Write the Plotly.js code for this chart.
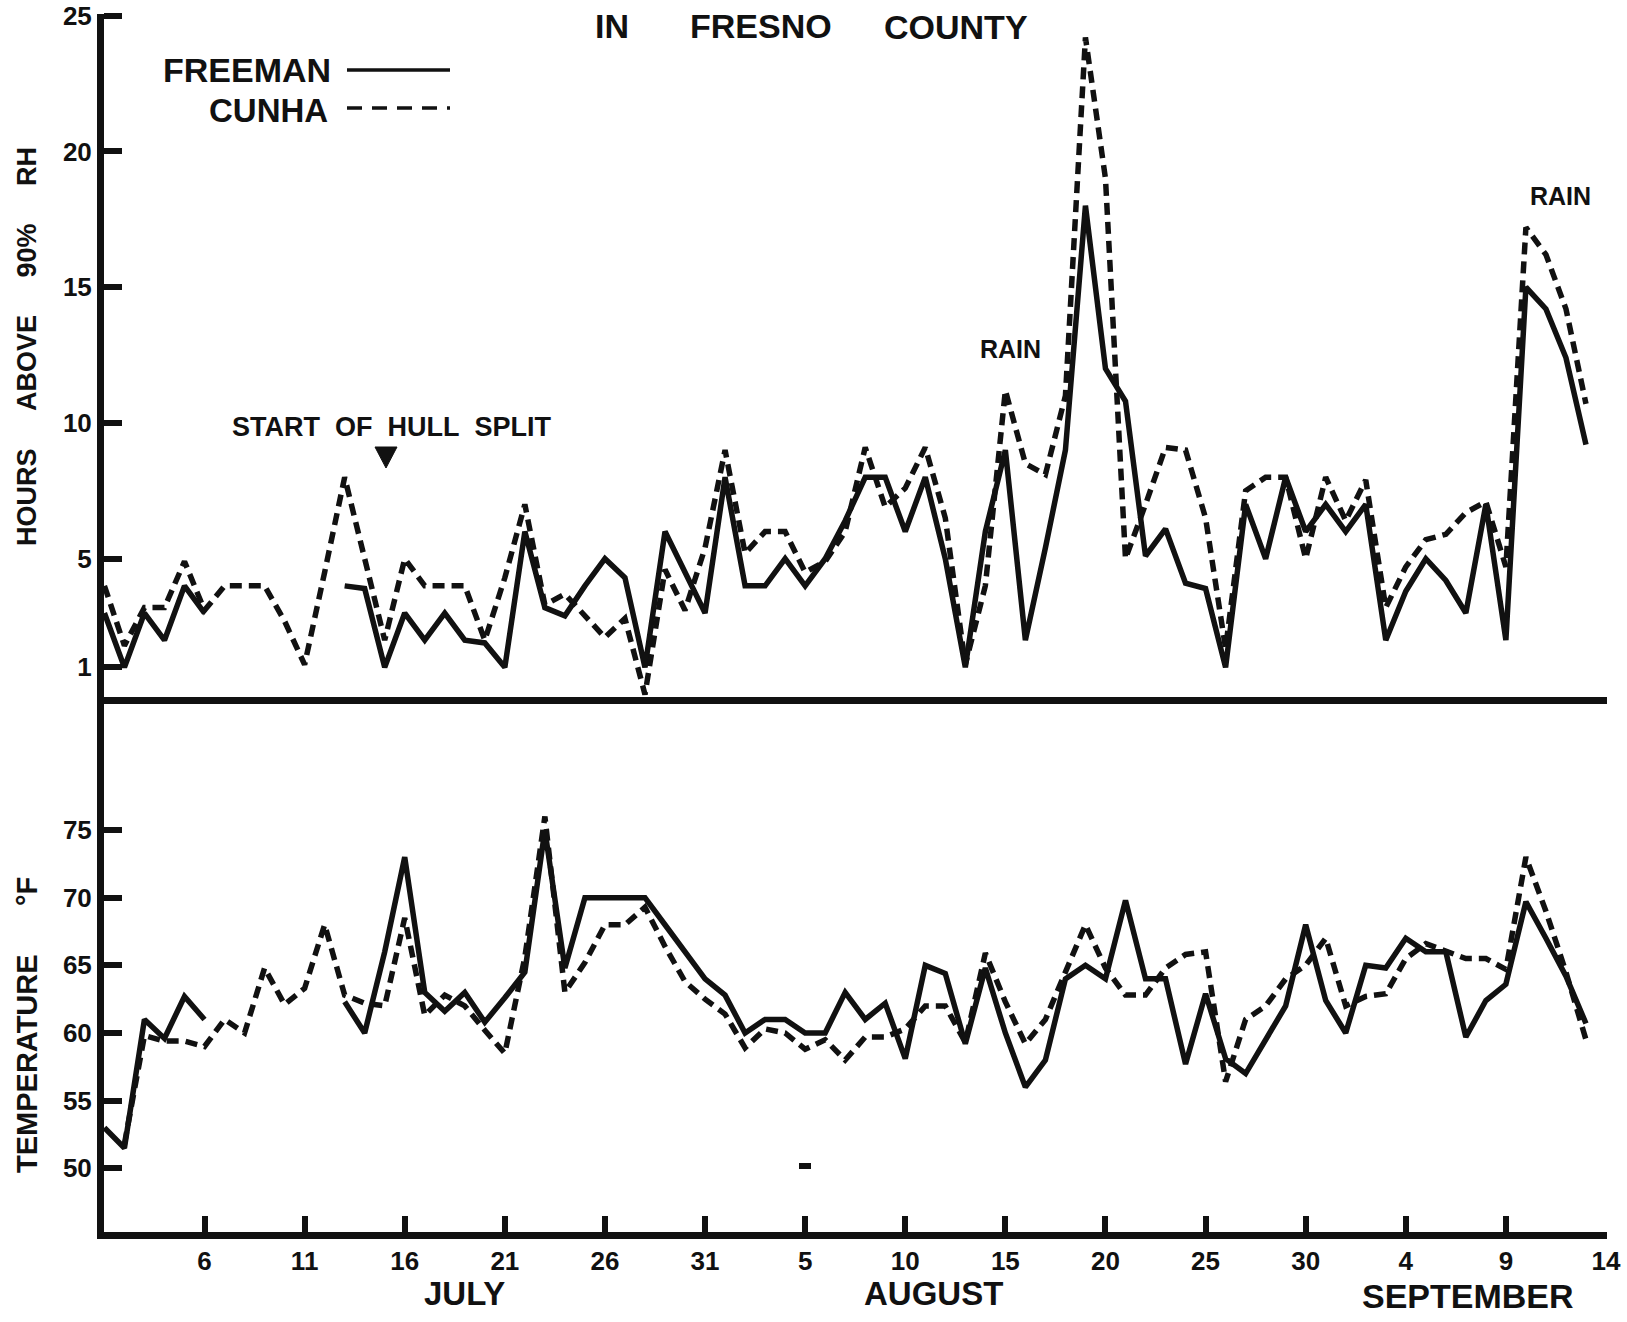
<!DOCTYPE html>
<html><head><meta charset="utf-8">
<script src="https://cdn.plot.ly/plotly-3.0.1.min.js"></script>
<style>html,body{margin:0;padding:0;background:#fff}</style>
</head><body>
<div id="chart" style="width:1627px;height:1322px"></div>
<script>
// Day index: 1 = July 1 ... 75 = September 13
const days = [1,2,3,4,5,6,7,8,9,10,11,12,13,14,15,16,17,18,19,20,21,22,23,24,25,26,27,28,29,30,31,32,33,34,35,36,37,38,39,40,41,42,43,44,45,46,47,48,49,50,51,52,53,54,55,56,57,58,59,60,61,62,63,64,65,66,67,68,69,70,71,72,73,74,75];

// Hours above 90% RH
const freemanRH = [3,1,3,2,4,3,null,null,null,null,
  null,null,4,3.9,1,3,2,3,2,1.9,
  1,6,3.2,2.9,4,5,4.3,1,6,4.5,
  3,8,4,4,5,4,5,6.4,8,8,
  6,8,5,1,6,9,2,5.4,9,18,
  12,10.8,5.1,6.1,4.1,3.9,1,7,5,8,
  6,7,6,7,2,3.8,5,4.2,3,7,
  2,15,14.2,12.4,9.2];
const cunhaRH = [4,1.8,3.2,3.2,4.9,3.1,4,4,4,2.7,
  1.1,4.5,8,5,2,5,4,4,4,2,
  4.3,7,3.3,3.7,2.9,2.1,2.8,0,4.6,3.1,
  5.4,9,5.2,6,6,4.5,4.9,6,9.1,6.9,
  7.6,9.1,6.5,1.1,4,11.2,8.5,8.1,11,24.2,
  19,5,7,9.1,9,6.5,1.7,7.5,8,8,
  5,8,6.4,7.9,3.2,4.7,5.7,5.9,6.7,7.1,
  4.7,17.2,16.2,14.2,10.7];

// Temperature (°F)
const freemanTemp = [53,51.5,61,59.6,62.7,61,null,null,null,null,
  null,null,62.3,60,66,73,63,61.6,63,60.8,
  62.6,64.5,75,64.8,70,70,70,70,68,66,
  64,62.8,60,61,61,60,60,63,61,62.2,
  58.1,65,64.4,59.2,64.8,60,56,58,64,65,
  64,69.8,64,64,57.7,62.9,58.1,57,59.5,62,
  68,62.4,60,65,64.8,67,66,66,59.7,62.4,
  63.6,69.7,67,64.2,60.7];
const cunhaTemp = [null,51.8,59.8,59.4,59.4,59,61,60,64.8,62.1,
  63.3,68,62.8,62.2,62,68.5,61.3,62.8,62,60.2,
  58.5,65.6,76,63,65.2,68,68,69.3,66.4,63.8,
  62.5,61.4,58.9,60.3,60,58.8,59.5,58,59.7,59.7,
  60.3,62,62,59.3,65.9,62.3,59.2,61,64.5,68,
  64.8,62.8,62.8,64.8,65.8,66,56.4,61,62,64,
  65,67,62,62.7,62.9,65.5,66.6,66.1,65.5,65.5,
  64.7,73,69,64.5,59.5];

const tickDays = [6,11,16,21,26,31,36,41,46,51,56,61,66,71,76];
const tickLabels = ['6','11','16','21','26','31','5','10','15','20','25','30','4','9','14'];
const rhTicks = [1,5,10,15,20,25];
const tempTicks = [50,55,60,65,70,75];
const monthNames = ['JULY','AUGUST','SEPTEMBER'];
const seriesNames = ['FREEMAN','CUNHA'];

// ---- layout geometry (pixels) ----
const W = 1627, H = 1322, L = 104, R = 20, T = 14, B = 90;
const PW = W - L - R, PH = H - T - B;
const px = x => (x - L) / PW;
const py = y => (H - B - y) / PH;
const split = py(696.5);

const INK = '#111';
const FONT = 'Liberation Sans, Arial, Helvetica, sans-serif';
const bold = (size) => ({family: FONT, size: size, color: INK, weight: 700});
const NB = '\u00a0';
const sp = n => NB.repeat(n);

const solid = {color: INK, width: 5.5};
const dashed = {color: INK, width: 5.5, dash: '12px,7px'};

const traces = [
  {x: days, y: freemanRH, xaxis: 'x', yaxis: 'y', mode: 'lines', line: solid, connectgaps: false, name: seriesNames[0]},
  {x: days, y: cunhaRH, xaxis: 'x', yaxis: 'y', mode: 'lines', line: dashed, connectgaps: false, name: seriesNames[1]},
  {x: days, y: freemanTemp, xaxis: 'x2', yaxis: 'y2', mode: 'lines', line: solid, connectgaps: false, name: seriesNames[0]},
  {x: days, y: cunhaTemp, xaxis: 'x2', yaxis: 'y2', mode: 'lines', line: dashed, connectgaps: false, name: seriesNames[1]}
];

const xRange = [0.98, 76.05];
const axisCommon = {showgrid: false, zeroline: false, showline: true, linecolor: INK, linewidth: 7, fixedrange: true};

const ann = (text, x, y, size, opts) => Object.assign({
  text: text, x: px(x), y: py(y), xref: 'paper', yref: 'paper',
  showarrow: false, xanchor: 'center', yanchor: 'middle', font: bold(size)
}, opts || {});

const layout = {
  width: W, height: H,
  margin: {l: L, r: R, t: T, b: B, pad: 0},
  paper_bgcolor: '#fff', plot_bgcolor: '#fff',
  showlegend: false,
  xaxis: Object.assign({}, axisCommon, {domain: [0, 1], anchor: 'y', range: xRange, ticks: '', showticklabels: false}),
  xaxis2: Object.assign({}, axisCommon, {domain: [0, 1], anchor: 'y2', range: xRange,
    ticks: 'inside', ticklen: 16, tickwidth: 6, tickcolor: INK,
    tickmode: 'array', tickvals: tickDays, ticktext: tickLabels, tickfont: bold(26)}),
  yaxis: Object.assign({}, axisCommon, {domain: [split, 1], anchor: 'x', range: [-0.074, 25.06],
    ticks: 'inside', ticklen: 18, tickwidth: 6, tickcolor: INK,
    tickmode: 'array', tickvals: rhTicks, ticktext: rhTicks.map(String), tickfont: bold(26)}),
  yaxis2: Object.assign({}, axisCommon, {domain: [0, split], anchor: 'x2', range: [45.29, 84.87],
    ticks: 'inside', ticklen: 18, tickwidth: 6, tickcolor: INK,
    tickmode: 'array', tickvals: tempTicks, ticktext: tempTicks.map(String), tickfont: bold(26)}),
  annotations: [
    ann('IN', 612, 25.5, 34),
    ann('FRESNO', 760.5, 25.5, 34),
    ann('COUNTY', 955.6, 27, 34),
    ann(seriesNames[0], 333, 70, 34, {xanchor: 'right'}),
    ann(seriesNames[1], 330, 110, 33, {xanchor: 'right'}),
    ann('START' + sp(2) + 'OF' + sp(2) + 'HULL' + sp(2) + 'SPLIT', 391.5, 427, 27),
    ann('RAIN', 1010, 349, 25),
    ann('RAIN', 1560, 196, 25),
    ann('HOURS' + sp(5) + 'ABOVE' + sp(5) + '90%' + sp(5) + 'RH', 27, 347, 27, {textangle: -90}),
    ann('TEMPERATURE' + sp(6) + '°F', 27, 1025, 29, {textangle: -90}),
    ann(monthNames[0], 464, 1293, 33),
    ann(monthNames[1], 933, 1293, 33),
    ann(monthNames[2], 1468, 1296, 34)
  ],
  shapes: [
    {type: 'line', xref: 'paper', yref: 'paper', x0: px(347), x1: px(450), y0: py(70), y1: py(70), line: {color: INK, width: 3.5}},
    {type: 'line', xref: 'paper', yref: 'paper', x0: px(347), x1: px(450), y0: py(108), y1: py(108), line: {color: INK, width: 3.5, dash: '15px,10px'}},
    {type: 'path', xref: 'paper', yref: 'paper',
     path: 'M ' + px(375) + ',' + py(447) + ' L ' + px(397) + ',' + py(447) + ' L ' + px(386) + ',' + py(468) + ' Z',
     fillcolor: INK, line: {color: INK, width: 1}},
    {type: 'rect', xref: 'paper', yref: 'paper', x0: px(799), x1: px(811), y0: py(1163), y1: py(1169),
     fillcolor: INK, line: {width: 0}}
  ]
};

Plotly.newPlot('chart', traces, layout, {displayModeBar: false, staticPlot: true});
</script>
</body></html>
